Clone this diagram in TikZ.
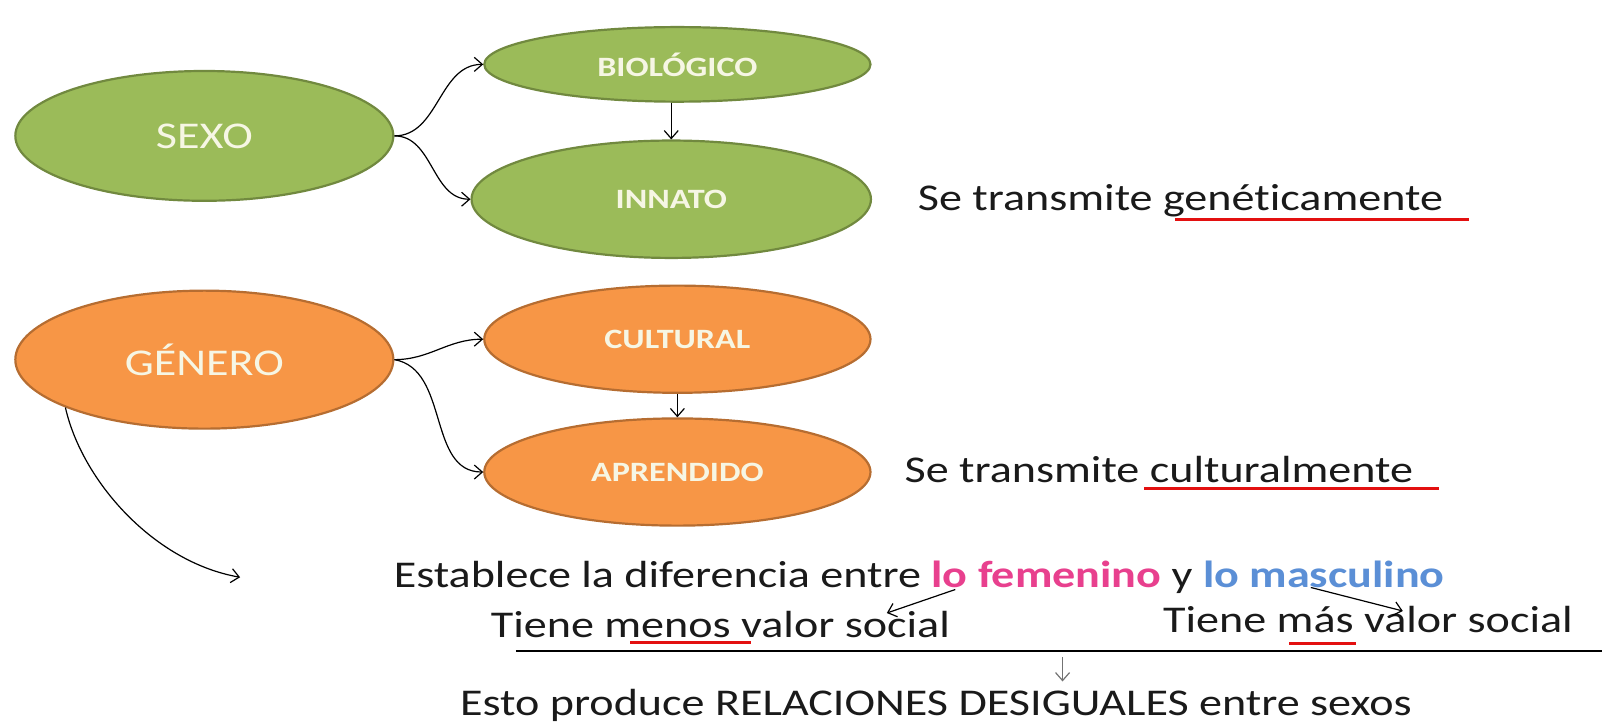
\documentclass[tikz,border=0pt]{standalone}
\usepackage{fontspec}
\setmainfont{Carlito}[FakeStretch=1.22,Ligatures=NoCommon]
\usetikzlibrary{shapes.geometric,arrows.meta}
\definecolor{gfill}{HTML}{9BBB59}
\definecolor{gline}{HTML}{71893F}
\definecolor{ofill}{HTML}{F79646}
\definecolor{oline}{HTML}{B66D31}
\definecolor{pinkt}{HTML}{E8408E}
\definecolor{bluet}{HTML}{5B8FD6}
\definecolor{redu}{HTML}{E31010}
\definecolor{txtc}{HTML}{1A1A1A}
\definecolor{bubtxt}{HTML}{F6F6E4}
\newcommand{\bigf}{\fontsize{18.9}{22}\selectfont}
\newcommand{\smallf}{\fontsize{14}{17}\selectfont\bfseries}
\begin{document}
\begin{tikzpicture}[x=0.51085pt,y=-0.51085pt,
  bubble/.style={ellipse,draw,line width=1.1pt,inner sep=0pt,text=bubtxt},
  gbub/.style={bubble,fill=gfill,draw=gline},
  obub/.style={bubble,fill=ofill,draw=oline},
  txt/.style={anchor=base west,inner sep=0pt,font=\bigf,text=txtc},
  con/.style={-{Straight Barb[length=4pt,width=7pt]},line width=0.6pt,black},
  redline/.style={line width=1.6pt,redu},
]
\useasboundingbox (0,0) rectangle (1568,711);
% green group
\node[gbub,minimum width=189pt,minimum height=64.9pt,font=\bigf] (sexo) at (200,133) {SEXO};
\node[gbub,minimum width=193.1pt,minimum height=37.3pt,font=\smallf] (bio) at (663,63) {BIOLÓGICO};
\node[gbub,minimum width=199.7pt,minimum height=58.7pt,font=\smallf] (inn) at (657,195) {INNATO};
\draw[con] (sexo.east) to[out=0,in=180] (bio.west);
\draw[con] (sexo.east) to[out=0,in=180] (inn.west);
\draw[con] (inn.north |- bio.south) -- (inn.north);
% orange group
\node[obub,minimum width=189pt,minimum height=69pt,font=\bigf] (gen) at (200,352) {GÉNERO};
\node[obub,minimum width=193.1pt,minimum height=53.6pt,font=\smallf] (cul) at (663,332) {CULTURAL};
\node[obub,minimum width=193.1pt,minimum height=53.6pt,font=\smallf] (apr) at (663,462) {APRENDIDO};
\draw[con] (gen.east) to[out=0,in=180] (cul.west);
\draw[con] (gen.east) to[out=-10,in=180] (apr.west);
\draw[con] (cul.south) -- (apr.north);
% texts
\node[txt] (t1) at (898,206) {Se transmite genét\kern0pt icamente};
\draw[redline] (1150,215) -- (1438,215);
\node[txt] (t2) at (885,472) {Se transmite culturalmente};
\draw[redline] (1120,478) -- (1408,478);
\node[txt] (t3) at (385,575) {Establece la diferencia entre \textcolor{pinkt}{\bfseries lo femenino} y \textcolor{bluet}{\bfseries lo masculino}};
\node[txt] (t4) at (480,624) {Tiene menos valor social};
\draw[redline] (617,629) -- (735,629);
\node[txt] (t5) at (1138,619) {Tiene más valor social};
\draw[redline] (1262,630) -- (1327,630);
\node[txt] (t6) at (450,700) {Esto produce RELACIONES DESIGUALES entre sexos};
% other connectors
\coordinate (gend) at (235,565);
\draw[con] (gen.199.5) .. controls (80,470) and (150,550) .. (gend);
\coordinate (fa) at (935,577);
\coordinate (fb) at (868,600);
\draw[con] (fa) -- (fb);
\coordinate (ma) at (1283,575);
\coordinate (mb) at (1373,598);
\draw[con] (ma) -- (mb);
\coordinate (hl1) at (505,637);
\coordinate (hl2) at (1568,637);
\draw[line width=0.8pt,black] (hl1) -- (hl2);
\coordinate (da) at (1040,643);
\coordinate (db) at (1040,667);
\draw[con,black!55] (da) -- (db);
\end{tikzpicture}
\end{document}
